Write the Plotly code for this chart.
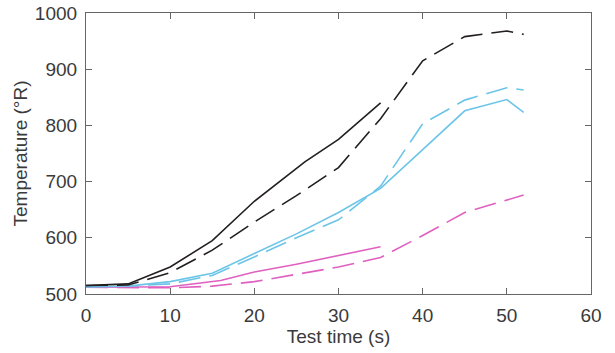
import plotly.graph_objects as go

# Test time (s)
t_black_solid = [0, 5, 10, 15, 20, 26, 30, 35]
T_black_solid = [515, 518, 548, 595, 665, 735, 775, 840]

t_black_dash = [0, 5, 10, 15, 20, 25, 30, 35, 40, 45, 50, 52]
T_black_dash = [515, 516, 538, 578, 628, 675, 725, 812, 915, 958, 968, 962]

t_cyan_solid = [0, 5, 10, 15, 20, 25, 30, 35, 40, 45, 50, 52]
T_cyan_solid = [513, 514, 522, 537, 572, 607, 645, 688, 757, 826, 846, 823]

t_cyan_dash = [0, 5, 10, 15, 20, 25, 30, 35, 40, 45, 50, 52]
T_cyan_dash = [513, 514, 518, 533, 566, 600, 632, 692, 803, 845, 867, 863]

t_mag_solid = [0, 5, 10, 16, 20, 25, 30, 35]
T_mag_solid = [512, 512, 513, 524, 539, 553, 568, 584]

t_mag_dash = [0, 5, 10, 15, 20, 25, 30, 35, 40, 45, 50, 52]
T_mag_dash = [512, 511, 511, 514, 522, 535, 548, 565, 604, 645, 668, 676]

BLACK = "#231f20"
CYAN = "#6cc5e8"
MAG = "#e060c0"
DASH = "22px,9px"

series = [
    (t_mag_dash, T_mag_dash, MAG, DASH),
    (t_mag_solid, T_mag_solid, MAG, "solid"),
    (t_cyan_dash, T_cyan_dash, CYAN, DASH),
    (t_cyan_solid, T_cyan_solid, CYAN, "solid"),
    (t_black_dash, T_black_dash, BLACK, DASH),
    (t_black_solid, T_black_solid, BLACK, "solid"),
]

fig = go.Figure()
for x, y, c, d in series:
    fig.add_trace(go.Scatter(x=x, y=y, mode="lines",
                             line=dict(color=c, width=1.6, dash=d),
                             showlegend=False, hoverinfo="skip"))

FONT = "Liberation Sans, Arial, sans-serif"
TXT = "#3a3a3a"
axis_common = dict(
    showgrid=False, zeroline=False, automargin=False,
    showline=True, linecolor="#666", linewidth=1.2, mirror="allticks",
    ticks="inside", ticklen=6, tickcolor="#666", tickwidth=1.2,
    ticklabeloverflow="allow",
    tickfont=dict(family=FONT, size=19, color=TXT),
)

fig.update_layout(
    width=615, height=353,
    margin=dict(l=86, r=24, t=13, b=59),
    paper_bgcolor="white", plot_bgcolor="white",
    font=dict(family=FONT, color=TXT),
    xaxis=dict(range=[0, 60], tickvals=[0, 10, 20, 30, 40, 50, 60],
               ticklabelstandoff=4,
               title=dict(text="Test time (s)", font=dict(size=19, color=TXT), standoff=4),
               **axis_common),
    yaxis=dict(range=[500, 1000], tickvals=[500, 600, 700, 800, 900, 1000],
               ticklabelstandoff=4,
               title=dict(text="Temperature (°R)", font=dict(size=19, color=TXT), standoff=2),
               **axis_common),
)

fig.write_html("out.html", config={"displayModeBar": False},
               post_script="document.body.style.margin='0';document.body.style.overflow='hidden';")
